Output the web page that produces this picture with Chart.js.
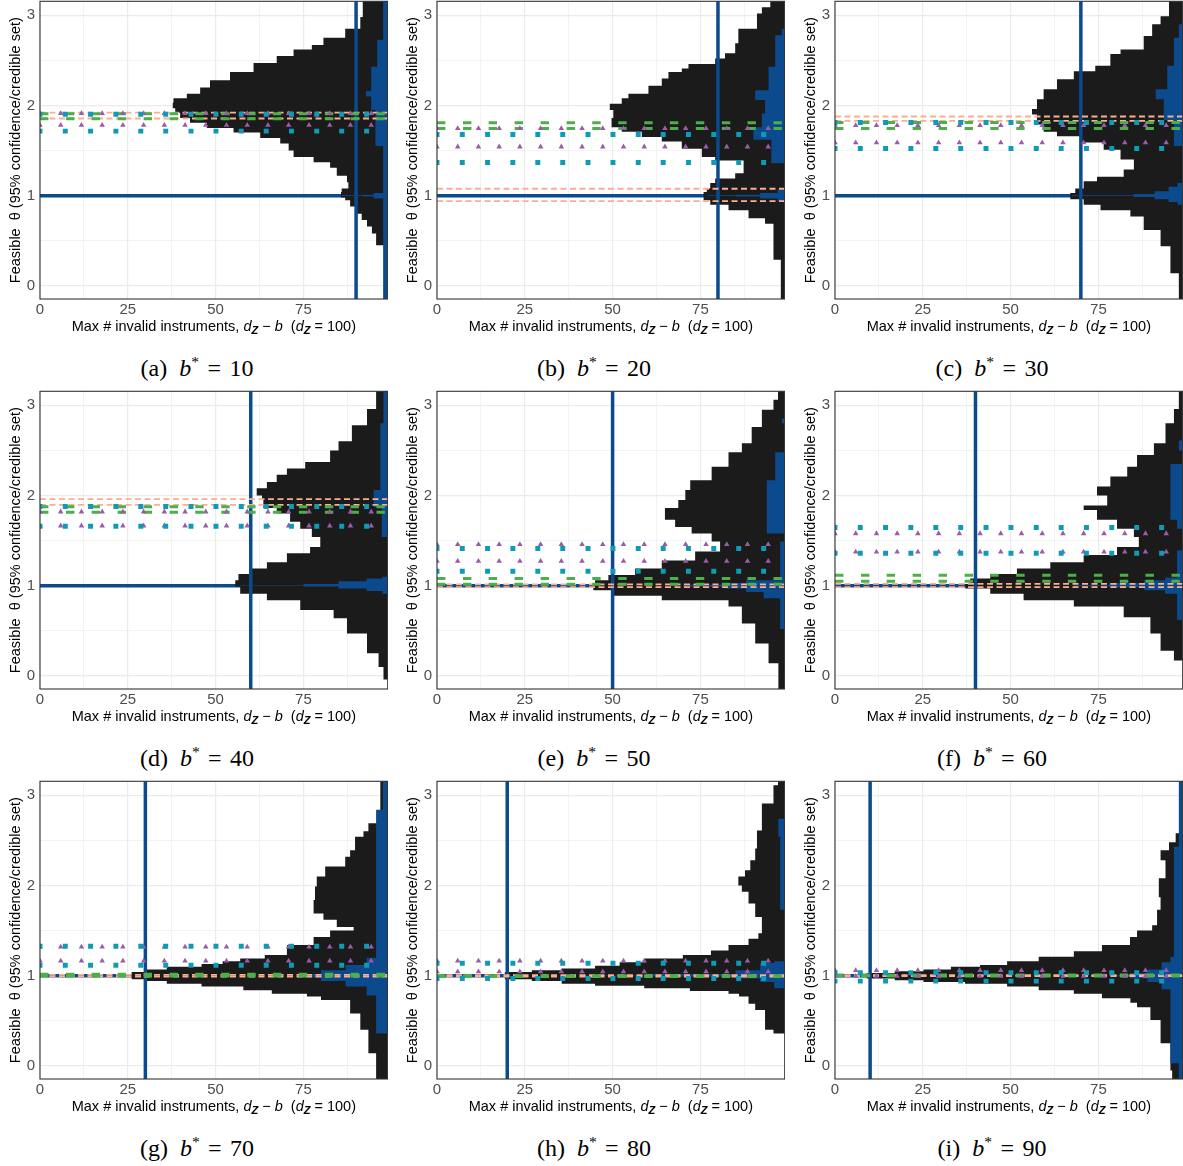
<!DOCTYPE html>
<html>
<head>
<meta charset="utf-8">
<script src="https://cdn.jsdelivr.net/npm/chart.js@4.4.1/dist/chart.umd.min.js"></script>
<style>
  html, body { margin: 0; padding: 0; background: #fff; overflow: hidden; }
  #wrap { position: relative; width: 1183px; height: 1166px; }
  canvas { position: absolute; }
  .cap { position: absolute; width: 394px; text-align: center; font-family: "Liberation Serif", serif;
         font-size: 24px; line-height: 28px; color: #000; white-space: nowrap; }
  .cap sup { font-size: 65%; vertical-align: 0.55em; line-height: 0; }
  .cap .b { margin-left: 0.5em; font-style: italic; }
  .cap .eq { margin: 0 0.35em; }
</style>
</head>
<body>
<div id="wrap"></div>
<script>
// ---- data ----
const panelTags = ['a', 'b', 'c', 'd', 'e', 'f', 'g', 'h', 'i'];
const bStar = [10, 20, 30, 40, 50, 60, 70, 80, 90];
const refLineX = [90, 80, 70, 60, 50, 40, 30, 20, 10];   // d_Z - b*
const trueTheta = 1;
const xTicks = [0, 12.5, 25, 37.5, 50, 62.5, 75, 87.5];
const yTicks = [0, 0.5, 1, 1.5, 2, 2.5, 3];

// x positions of the markers along the horizontal bound lines
const squareX = [0, 7.2, 14.4, 21.6, 28.7, 35.8, 43.0, 50.1, 57.3, 64.4, 71.6, 78.8, 85.9, 93.0];
const triangleX = [0, 5.9, 11.8, 17.7, 23.6, 29.5, 35.4, 41.3, 47.2, 53.1, 59.0, 64.9, 70.8, 76.6, 82.5, 88.4, 94.3];
const dashX = [1.2, 8.6, 15.9, 23.3, 30.7, 38.1, 45.4, 52.8, 60.2, 67.5, 74.9, 82.3, 89.6, 97.0];

// [lower, upper] bounds per panel
const orangeBounds = [[1.856, 1.922], [0.941, 1.077], [1.830, 1.878], [1.897, 1.959], [0.985, 1.015],
                      [0.985, 1.02], [0.99, 1.01], [0.99, 1.005], [0.995, 1.005]];
const greenBounds = [[1.852, 1.908], [1.745, 1.808], [1.745, 1.812], [1.815, 1.874], [1.017, 1.079],
                     [1.05, 1.115], [0.998, 1.015], [0.99, 1.0], [0.998, 1.008]];
const purpleBounds = [[1.782, 1.911], [1.542, 1.745], [1.587, 1.78], [1.664, 1.819], [1.272, 1.457],
                      [1.375, 1.578], [1.163, 1.32], [1.044, 1.163], [0.995, 1.059]];
const tealBounds = [[1.716, 1.904], [1.369, 1.679], [1.524, 1.812], [1.660, 1.878], [1.161, 1.412],
                    [1.360, 1.645], [1.116, 1.327], [0.97, 1.137], [0.94, 1.033]];

// feasible region: [theta from, left edge x] (edge holds until next theta), last entry closes at 100
const edgeA = [[0.45,95.7],[0.58,94.5],[0.66,93.1],[0.73,91.6],[0.80,89.7],[0.88,88.3],[0.95,86.9],[0.98,85.7],[1.04,85.9],[1.08,87.8],[1.15,87.4],[1.22,84.5],[1.31,82.6],[1.37,77.9],[1.43,72.2],[1.50,70.8],[1.58,68.4],[1.64,62.7],[1.70,55.1],[1.75,47.5],[1.81,42.7],[1.86,39.9],[1.92,38.5],[1.97,37.8],[2.03,38.0],[2.08,41.8],[2.13,45.6],[2.20,48.4],[2.28,54.1],[2.37,60.8],[2.47,67.4],[2.55,72.2],[2.62,77.4],[2.67,80.7],[2.75,86.9],[2.85,91.2],[2.98,91.9],[3.2,100]];
const edgeB = [[-0.2,97.9],[0.29,95.8],[0.69,93.4],[0.75,88.7],[0.84,83.0],[0.90,77.8],[0.95,75.9],[1.04,76.8],[1.08,77.8],[1.14,79.2],[1.19,84.9],[1.25,87.3],[1.39,79.2],[1.43,75.4],[1.52,69.7],[1.60,64.0],[1.65,58.3],[1.71,52.6],[1.76,49.7],[1.86,50.2],[1.95,49.2],[2.02,52.6],[2.08,54.5],[2.13,60.2],[2.22,64.0],[2.30,65.9],[2.37,69.7],[2.41,71.6],[2.46,79.2],[2.52,82.0],[2.58,84.9],[2.69,85.8],[2.85,91.1],[3.02,92.5],[3.09,94.9],[3.2,100]];
const edgeC = [[-0.2,97.9],[0.14,95.5],[0.44,92.7],[0.62,87.9],[0.77,84.1],[0.84,75.6],[0.90,70.8],[0.96,67.0],[1.03,68.4],[1.08,70.8],[1.16,74.6],[1.21,82.2],[1.29,85.1],[1.40,81.3],[1.51,76.5],[1.59,69.9],[1.66,63.2],[1.71,59.4],[1.79,57.5],[1.90,56.1],[1.96,57.5],[2.07,59.4],[2.18,63.2],[2.29,68.0],[2.38,74.1],[2.44,78.4],[2.57,81.3],[2.62,87.9],[2.77,90.3],[2.90,92.7],[2.99,95.1],[3.2,100]];
const edgeD = [[-0.04,97.8],[0.10,96.4],[0.25,93.1],[0.47,87.4],[0.64,83.6],[0.73,74.1],[0.84,64.6],[0.91,57.0],[0.99,55.6],[1.06,56.5],[1.13,60.3],[1.19,64.6],[1.26,70.3],[1.36,76.9],[1.43,79.8],[1.54,77.4],[1.63,74.1],[1.71,71.2],[1.80,67.4],[1.86,63.6],[1.95,63.2],[2.00,61.7],[2.08,64.6],[2.15,67.4],[2.23,70.3],[2.30,75.5],[2.37,82.6],[2.50,85.0],[2.60,88.8],[2.78,93.1],[2.96,95.7],[3.2,100]];
const edgeE = [[-0.2,97.2],[0.14,94.4],[0.36,90.6],[0.58,86.8],[0.77,83.0],[0.84,64.0],[0.89,49.7],[0.95,44.5],[1.01,45.0],[1.06,48.8],[1.12,56.4],[1.19,64.0],[1.28,73.5],[1.38,80.6],[1.49,78.2],[1.58,72.5],[1.65,67.8],[1.73,64.9],[1.86,68.7],[1.95,70.7],[2.06,72.1],[2.17,78.2],[2.32,83.0],[2.48,86.8],[2.58,89.6],[2.76,92.5],[2.95,95.8],[3.06,97.1],[3.2,100]];
const edgeF = [[0.17,96.5],[0.28,92.7],[0.47,89.8],[0.65,82.2],[0.77,68.0],[0.84,53.7],[0.91,44.2],[0.97,37.1],[1.02,38.5],[1.08,44.2],[1.13,51.8],[1.19,61.3],[1.26,70.8],[1.34,80.3],[1.43,86.5],[1.54,85.1],[1.63,80.3],[1.73,74.6],[1.84,70.8],[1.89,77.5],[2.00,74.6],[2.10,78.4],[2.21,83.2],[2.32,86.0],[2.45,90.8],[2.58,94.1],[2.80,96.5],[2.96,97.9],[3.2,100]];
const edgeG = [[-0.2,95.7],[0.14,93.5],[0.40,91.2],[0.58,88.3],[0.73,80.0],[0.77,76.0],[0.80,66.0],[0.84,57.9],[0.88,46.0],[0.91,36.1],[0.94,30.0],[0.96,26.1],[1.04,30.0],[1.07,36.1],[1.10,46.0],[1.13,52.0],[1.16,57.0],[1.19,64.0],[1.23,70.3],[1.34,77.9],[1.43,82.6],[1.50,89.3],[1.54,84.5],[1.62,80.7],[1.69,77.9],[1.84,78.3],[1.99,78.8],[2.10,81.2],[2.21,86.9],[2.32,88.3],[2.39,89.7],[2.54,92.1],[2.60,93.5],[2.69,95.9],[2.80,96.9],[3.2,100]];
const edgeH = [[0.36,95.8],[0.40,93.4],[0.62,90.6],[0.69,88.7],[0.77,86.0],[0.80,83.0],[0.83,72.0],[0.86,59.0],[0.89,45.0],[0.91,35.5],[0.94,27.0],[0.96,19.3],[1.04,27.0],[1.06,35.5],[1.08,45.0],[1.11,52.0],[1.15,59.2],[1.19,70.0],[1.23,78.0],[1.28,83.0],[1.34,88.7],[1.41,91.5],[1.47,92.5],[1.65,90.6],[1.80,88.7],[1.93,86.8],[2.00,85.8],[2.10,87.7],[2.17,89.2],[2.28,90.6],[2.41,91.1],[2.61,92.5],[2.91,95.8],[3.11,97.1],[3.2,100]];
const edgeI = [[-0.2,96.0],[-0.05,95.5],[0.25,92.7],[0.51,89.8],[0.65,86.0],[0.70,84.1],[0.75,76.0],[0.80,68.0],[0.84,58.0],[0.88,49.0],[0.91,37.0],[0.93,25.2],[0.95,17.0],[0.97,9.0],[1.03,17.0],[1.05,25.2],[1.07,33.0],[1.10,41.3],[1.12,49.0],[1.16,58.0],[1.21,68.0],[1.27,76.0],[1.34,84.0],[1.43,86.0],[1.50,90.3],[1.56,91.7],[1.73,92.7],[1.87,92.2],[2.08,94.1],[2.28,92.7],[2.39,95.1],[2.48,97.0],[2.58,100]];

// second (blue) feasible region, same layout
const blueA = [[-0.2,97.7],[0.97,95],[0.99,92],[0.996,86],[1.004,92],[1.01,95],[1.03,97.7],[1.55,95.5],[1.95,94.3],[2.1,92.8],[2.16,94.3],[2.43,96.0],[2.73,97.7],[3.2,100]];
const blueB = [[0.94,97],[0.97,92],[0.99,85],[0.996,77],[1.004,85],[1.01,92],[1.03,97],[1.07,100],[1.36,95.2],[1.62,90.1],[1.76,92.5],[1.91,93.4],[2.06,90.6],[2.17,94.4],[2.43,96.3],[2.78,98.2],[2.85,100]];
const blueC = [[0.9,97.5],[0.93,95],[0.96,91],[0.985,85],[0.996,67.5],[1.004,85],[1.02,91],[1.05,95],[1.1,97.5],[1.14,100],[1.55,96.5],[1.84,93.6],[2.07,91.3],[2.18,94.6],[2.44,96.5],[2.75,97.9],[2.9,100]];
const blueD = [[0.91,97.5],[0.94,93],[0.97,85],[0.99,75],[0.997,57],[1.003,75],[1.02,85],[1.05,93],[1.08,97.5],[1.1,100],[1.54,97.3],[1.87,95.0],[2.06,96.9],[2.8,97.8],[3.2,100]];
const blueE = [[0.52,97.7],[0.86,93],[0.93,88],[0.97,82],[0.99,70],[1.01,82],[1.03,88],[1.06,97.7],[1.49,100],[1.58,93.9],[2.17,96.3],[2.48,100],[2.80,98.2],[2.85,100]];
const blueF = [[0.62,97.4],[0.91,94],[0.95,88],[0.98,78],[0.995,68],[1.005,78],[1.03,88],[1.06,94],[1.09,97.4],[1.39,100],[1.63,97.4],[1.73,95.5],[2.35,100],[2.5,97.9],[2.61,100]];
const blueG = [[0.36,95.7],[0.78,93],[0.88,87],[0.94,80],[0.98,74],[1.02,80],[1.06,87],[1.12,93],[1.2,95.7],[2.84,97.6],[3.2,100]];
const blueH = [[0.86,96],[0.93,92],[0.97,85],[0.99,60],[0.997,41],[1.003,60],[1.02,85],[1.06,92],[1.14,96],[1.16,100],[1.73,97.7],[2.54,97.2],[2.74,100]];
const blueI = [[-0.2,97.9],[0.03,95.5],[0.85,93],[0.93,89],[0.97,84],[0.995,80],[1.005,84],[1.03,89],[1.07,93],[1.15,95.5],[1.21,96.5],[2.43,97.9],[3.2,100]];

const blackEdges = [edgeA, edgeB, edgeC, edgeD, edgeE, edgeF, edgeG, edgeH, edgeI];
const blueEdges = [blueA, blueB, blueC, blueD, blueE, blueF, blueG, blueH, blueI];

// ---- styles ----
const BLUE = '#0B4A8C', BLACK = '#1B1B1B', ORANGE = '#FCAE91', GREEN = '#4DAF4A',
      PURPLE = '#9A5CA8', TEAL = '#0E9BB7', GRID = '#EBEBEB';
const SANS = '"Liberation Sans", Arial, sans-serif';
const colLeft = [0, 397, 795];
const rowTop = [0, 390, 780];

function regionPoints(edge) {
  const pts = [{x: 100, y: edge[0][0]}];
  edge.forEach(e => pts.push({x: e[1], y: e[0]}));
  return pts;
}

function markerPoints(xs, levels) {
  const pts = [];
  levels.forEach(v => xs.forEach(x => pts.push({x: x, y: v})));
  return pts;
}

const framePlugin = {
  id: 'frame',
  afterDraw(chart) {
    const ctx = chart.ctx, a = chart.chartArea;
    ctx.save();
    ctx.strokeStyle = '#333333';
    ctx.lineWidth = 1.1;
    ctx.strokeRect(a.left, a.top, a.right - a.left, a.bottom - a.top);

    // x title with math parts
    const normal = '14.5px ' + SANS, ital = 'italic 14.5px ' + SANS, sub = 'italic bold 11px ' + SANS;
    const parts = [
      ['Max # invalid instruments, ', normal, 0], ['d', ital, 0], ['Z', sub, 3], [' \u2212 ', normal, 0],
      ['b', ital, 0], ['  (', normal, 0], ['d', ital, 0], ['Z', sub, 3], [' = 100)', normal, 0]
    ];
    let total = 0;
    parts.forEach(p => { ctx.font = p[1]; total += ctx.measureText(p[0]).width; });
    let x = (a.left + a.right) / 2 - total / 2;
    ctx.fillStyle = '#000';
    ctx.textBaseline = 'alphabetic';
    ctx.textAlign = 'left';
    parts.forEach(p => {
      ctx.font = p[1];
      ctx.fillText(p[0], x, 330.5 + p[2]);
      x += ctx.measureText(p[0]).width;
    });

    // y title
    ctx.translate(19.5, (a.top + a.bottom) / 2);
    ctx.rotate(-Math.PI / 2);
    ctx.font = normal;
    ctx.textAlign = 'center';
    ctx.fillText('Feasible  \u03b8 (95% confidence/credible set)', 0, 0);
    ctx.restore();
  }
};

function noPad(s) {
  s.paddingTop = 0; s.paddingBottom = 0; s.paddingLeft = 0; s.paddingRight = 0;
}

const wrap = document.getElementById('wrap');

panelTags.forEach((tag, k) => {
  const c = k % 3, r = Math.floor(k / 3);
  const canvas = document.createElement('canvas');
  canvas.width = 388;
  canvas.height = 336;
  canvas.style.left = colLeft[c] + 'px';
  canvas.style.top = rowTop[r] + 'px';
  wrap.appendChild(canvas);

  const cap = document.createElement('div');
  cap.className = 'cap';
  cap.style.left = colLeft[c] + 'px';
  cap.style.top = (rowTop[r] + 354) + 'px';
  cap.innerHTML = '(' + tag + ')<span class="b">b</span><sup>*</sup><span class="eq">=</span>' + bStar[k];
  wrap.appendChild(cap);

  const datasets = [
    { data: [{x: 0, y: trueTheta}, {x: 100, y: trueTheta}], borderColor: BLUE, borderWidth: 3.5, order: 8 },
    { data: regionPoints(blackEdges[k]), fill: 'shape', backgroundColor: BLACK, borderWidth: 0, stepped: 'after', order: 7 },
    { data: regionPoints(blueEdges[k]), fill: 'shape', backgroundColor: BLUE, borderWidth: 0, stepped: 'after', order: 6 },
    { data: [{x: refLineX[k], y: -1}, {x: refLineX[k], y: 4}], borderColor: BLUE, borderWidth: 3.5, order: 5 }
  ];
  orangeBounds[k].forEach(v => datasets.push({
    data: [{x: 0, y: v}, {x: 100, y: v}], borderColor: ORANGE, borderWidth: 1.8, borderDash: [6, 3.5], order: 4
  }));
  datasets.push(
    { data: markerPoints(dashX, greenBounds[k]), showLine: false, pointStyle: 'line', pointRadius: 4.2,
      pointBorderWidth: 3, pointBorderColor: GREEN, order: 3 },
    { data: markerPoints(triangleX, purpleBounds[k]), showLine: false, pointStyle: 'triangle', pointRadius: 3.2,
      pointBackgroundColor: PURPLE, pointBorderWidth: 0, order: 2 },
    { data: markerPoints(squareX, tealBounds[k]), showLine: false, pointStyle: 'rect', pointRadius: 3.5,
      pointBackgroundColor: TEAL, pointBorderWidth: 0, order: 1 }
  );
  datasets.forEach(d => {
    d.clip = 0;
    d.pointHoverRadius = 0;
    if (d.pointRadius === undefined) d.pointRadius = 0;
  });

  new Chart(canvas.getContext('2d'), {
    type: 'line',
    data: { datasets: datasets },
    options: {
      responsive: false,
      devicePixelRatio: 1,
      animation: false,
      events: [],
      layout: { autoPadding: false, padding: { top: 1.3, right: 0.3, left: 0, bottom: 0 } },
      plugins: { legend: { display: false }, tooltip: { enabled: false } },
      scales: {
        x: {
          type: 'linear', min: 0, max: 99,
          afterBuildTicks: s => { s.ticks = xTicks.map(v => ({value: v})); },
          afterFit: s => { s.height = 37; noPad(s); },
          grid: { color: GRID, lineWidth: cx => (cx.tick && cx.tick.value % 25 === 0) ? 1.2 : 0.6, drawTicks: false },
          border: { display: false },
          ticks: { autoSkip: false, maxRotation: 0, padding: 2, color: '#4D4D4D',
                   font: { family: SANS, size: 15 }, callback: v => (v % 25 === 0 ? String(v) : '') }
        },
        y: {
          type: 'linear', min: -0.145, max: 3.155,
          afterBuildTicks: s => { s.ticks = yTicks.map(v => ({value: v})); },
          afterFit: s => { s.width = 40; noPad(s); },
          grid: { color: GRID, lineWidth: cx => (cx.tick && cx.tick.value % 1 === 0) ? 1.2 : 0.6, drawTicks: false },
          border: { display: false },
          ticks: { autoSkip: false, padding: 5, color: '#4D4D4D',
                   font: { family: SANS, size: 15 }, callback: v => (v % 1 === 0 ? String(v) : '') }
        }
      }
    },
    plugins: [framePlugin]
  });
});
</script>
</body>
</html>
